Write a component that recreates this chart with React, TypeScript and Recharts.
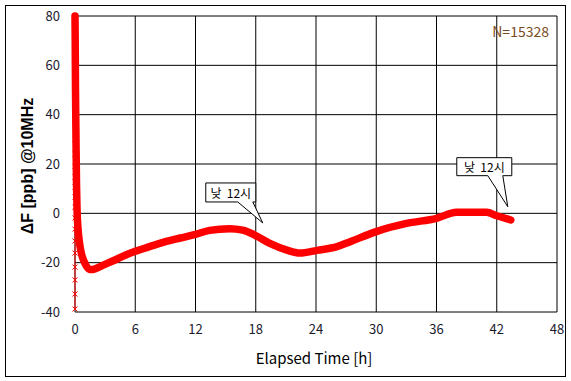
import React from 'react';
import { LineChart, Line, XAxis, YAxis, CartesianGrid, ReferenceDot } from 'recharts';

// elapsed hours and frequency offset (ppb)
const hours = [0, 0.02, 0.05, 0.1, 0.15, 0.2, 0.3, 0.45, 0.65, 0.9, 1.2, 1.5, 2, 2.5, 3.2, 4.2, 5, 6, 7.5, 9, 10.5, 12, 13.4, 15.4, 16.7, 17.9, 19.4, 21.1, 22.4, 24.1, 26.1, 27.4, 30, 33, 36, 38, 41, 42, 43.4];
const offsetPpb = [80, 70, 50, 30, 12, 2, -6, -12, -16.5, -19.5, -21.8, -22.8, -22.5, -21.6, -20.3, -18.5, -17, -15.4, -13.4, -11.5, -10, -8.5, -6.9, -6.2, -6.8, -8.8, -12.2, -14.9, -16.1, -15, -13.5, -11.5, -7.4, -4.1, -2, 0.4, 0.4, -1, -2.7];

// start-up samples stacked at t=0
const startValues = [-38.8, -32.7, -27, -21.8, -16.1, -11.2, -6.4, -1.9, 2.5, 6.6, 10.7, 14.7, 19, 24, 30, 38, 48, 60, 72, 80];

const xTicks = [0, 6, 12, 18, 24, 30, 36, 42, 48];
const yTicks = [-40, -20, 0, 20, 40, 60, 80];

// "noon" markers: [hour, ppb] where each callout points
const noonLabel = '낮  12시';
const noonMarks = [
  { x: 18.7, y: -3.9, box: [-57, -7, -40, -21], base: [-25, -10] },
  { x: 43.1, y: 2.7, box: [-51, 4, -49, -31], base: [-20, -5] },
];

const curve = hours.map((h, i) => ({ h, v: offsetPpb[i] }));
const startup = startValues.map((v) => ({ h: 0, v }));

const Cross = (props: any) => {
  const { cx, cy, index } = props;
  if (cx == null || cy == null) return <g key={index} />;
  const s = 2.5;
  return (
    <path
      key={index}
      d={`M${cx - s},${cy - s}L${cx + s},${cy + s}M${cx - s},${cy + s}L${cx + s},${cy - s}`}
      stroke="#ff0000"
      strokeWidth={1}
    />
  );
};

const callout = (m: typeof noonMarks[number]) => (props: any) => {
  const { cx, cy } = props;
  const [l, r, t, b] = m.box;
  const [b1, b2] = m.base;
  const d = `M${cx + l},${cy + t}L${cx + r},${cy + t}L${cx + r},${cy + b}L${cx + b2},${cy + b}L${cx},${cy}L${cx + b1},${cy + b}L${cx + l},${cy + b}Z`;
  return (
    <g>
      <path d={d} fill="#fff" stroke="#000" strokeWidth={1} />
      <text
        x={cx + (l + r) / 2}
        y={cy + b - 4}
        textAnchor="middle"
        fontSize={12}
        fontFamily="'Noto Sans CJK KR', sans-serif"
        fill="#000"
        style={{ whiteSpace: 'pre' }}
      >
        {noonLabel}
      </text>
    </g>
  );
};

const tickStyle = { fontSize: 13, fill: '#1a1a2e', fontFamily: "'Noto Sans CJK KR', 'Noto Sans', sans-serif" };

export default function App() {
  return (
    <div style={{ position: 'absolute', left: 0, top: 0, width: 571, height: 381, background: '#fff' }}>
      <div
        style={{
          position: 'absolute',
          left: 5,
          top: 5,
          width: 561,
          height: 372,
          boxSizing: 'border-box',
          border: '1px solid #000',
        }}
      />
      <LineChart
        width={571}
        height={381}
        margin={{ top: 16, right: 14, left: 30, bottom: 39 }}
        style={{ position: 'absolute', left: 0, top: 0 }}
      >
        <CartesianGrid stroke="#000" strokeWidth={1} />
        <XAxis
          type="number"
          dataKey="h"
          domain={[0, 48]}
          ticks={xTicks}
          height={30}
          axisLine={false}
          tickLine={false}
          tickSize={0}
          tickMargin={13}
          tick={tickStyle}
          interval={0}
        />
        <YAxis
          type="number"
          dataKey="v"
          domain={[-40, 80]}
          ticks={yTicks}
          width={45}
          axisLine={false}
          tickLine={false}
          tickSize={0}
          tickMargin={15}
          tick={tickStyle}
          interval={0}
        />
        <Line
          data={startup}
          dataKey="v"
          stroke="#ff0000"
          strokeWidth={1}
          dot={Cross}
          isAnimationActive={false}
        />
        <Line
          data={curve}
          dataKey="v"
          type="monotone"
          stroke="#ff0000"
          strokeWidth={7.5}
          strokeLinejoin="round"
          strokeLinecap="round"
          dot={false}
          isAnimationActive={false}
        />
        {noonMarks.map((m, i) => (
          <ReferenceDot key={i} x={m.x} y={m.y} r={0} shape={callout(m)} />
        ))}
      </LineChart>
      <svg width={571} height={381} style={{ position: 'absolute', left: 0, top: 0, pointerEvents: 'none' }}>
        <text
          x={27}
          y={166}
          transform="rotate(-90 27 166)"
          textAnchor="middle"
          dominantBaseline="central"
          fontSize={16}
          fontWeight="bold"
          fontFamily="'Liberation Sans', Arial, sans-serif"
          fill="#000"
        >
          ΔF [ppb] @10MHz
        </text>
        <text
          x={314}
          y={364}
          textAnchor="middle"
          fontSize={15}
          fontFamily="'Noto Sans CJK KR', 'Noto Sans', sans-serif"
          fill="#000"
        >
          Elapsed Time [h]
        </text>
        <text
          x={549}
          y={37}
          textAnchor="end"
          fontSize={14}
          fontFamily="'Noto Sans CJK KR', 'Noto Sans', sans-serif"
          fill="#7b4b1f"
        >
          N=15328
        </text>
      </svg>
    </div>
  );
}
